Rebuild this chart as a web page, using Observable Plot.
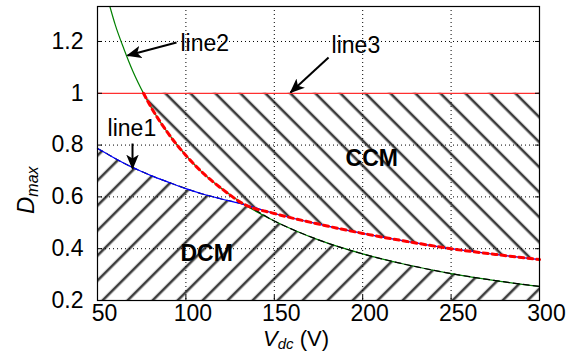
<!DOCTYPE html>
<html><head><meta charset="utf-8">
<script src="https://cdn.jsdelivr.net/npm/d3@7"></script>
<script src="https://cdn.jsdelivr.net/npm/@observablehq/plot@0.6"></script>
<style>
body{margin:0;background:#fff;}
#chart{position:absolute;left:0;top:0;}
</style></head><body><div id="chart"></div>
<script>
// Vdc sample points (V)
const vdc   = [50, 57, 60, 65, 70, 76, 80, 90, 100, 110, 120, 133, 150, 175, 200, 225, 250, 275, 300];
// line1 (blue)
const line1 = [0.787, 0.76, 0.748, 0.73, 0.713, 0.695, 0.683, 0.657, 0.632, 0.61, 0.592, 0.57, 0.536, 0.495, 0.459, 0.428, 0.40, 0.378, 0.358];
// line2 (green) – off the top of the chart at 50 V
const line2 = [null, 1.335, 1.265, 1.17, 1.085, 1.0, 0.95, 0.845, 0.76, 0.69, 0.633, 0.571, 0.507, 0.434, 0.38, 0.338, 0.304, 0.277, 0.254];
// line3: D = 1
const line3Level = 1;
const yFloor = 0.2;

const xTicks = [50, 100, 150, 200, 250, 300];
const yTicks = [0.2, 0.4, 0.6, 0.8, 1, 1.2];
const gridXs = [100, 150, 200, 250];
const gridYs = [0.4, 0.6, 0.8, 1.2];

// annotations (data coordinates)
const labelNames = ["line2", "line3", "line1"];
const labelX = [96.9, 182.4, 55.7];
const labelY = [1.192, 1.185, 0.864];
const arrowX1 = [94.7, 180.7, 69.8];
const arrowY1 = [1.196, 1.138, 0.806];
const arrowX2 = [67.0, 159.2, 69.8];
const arrowY2 = [1.146, 1.003, 0.71];
const regionNames = ["CCM", "DCM"];
const regionX = [190.3, 96.9];
const regionY = [0.748, 0.381];

const rows = vdc.map((v, i) => {
  const b = line1[i], g = line2[i] == null ? Infinity : line2[i];
  return {v, b, g: line2[i], lo: Math.min(b, g), hi: Math.min(line3Level, Math.max(b, g)), top: line3Level, floor: yFloor};
});
const greenRows = rows.filter(d => d.g != null);
const redRows = rows.filter(d => d.g != null && d.g <= line3Level);
const labels = labelNames.map((t, i) => ({t, x: labelX[i], y: labelY[i]}));
const arrows = labelNames.map((t, i) => ({x1: arrowX1[i], y1: arrowY1[i], x2: arrowX2[i], y2: arrowY2[i]}));
const regions = regionNames.map((t, i) => ({t, x: regionX[i], y: regionY[i]}));

const font = "Liberation Sans, Arial, Helvetica, sans-serif";
const fs = 23;

const plot = Plot.plot({
  width: 575, height: 358,
  marginLeft: 97, marginRight: 36, marginTop: 6, marginBottom: 58,
  x: {domain: [50, 300]},
  y: {domain: [0.2, 1.335]},
  style: {fontFamily: font, fontSize: fs + "px", background: "white", color: "black"},
  marks: [
    Plot.areaY(rows, {x: "v", y1: "floor", y2: "lo", fill: "url(#hatchDCM)", curve: "monotone-x"}),
    Plot.areaY(rows, {x: "v", y1: "hi", y2: "top", fill: "url(#hatchCCM)", curve: "monotone-x"}),
    Plot.gridX(gridXs, {stroke: "black", strokeOpacity: 1, strokeWidth: 1, strokeDasharray: "1,3"}),
    Plot.gridY(gridYs, {stroke: "black", strokeOpacity: 1, strokeWidth: 1, strokeDasharray: "1,3"}),
    Plot.line(greenRows, {x: "v", y: "g", stroke: "#008000", strokeWidth: 1.2, curve: "monotone-x", clip: true}),
    Plot.line(rows, {x: "v", y: "lo", stroke: "black", strokeWidth: 1.2, strokeDasharray: "6,4", curve: "monotone-x"}),
    Plot.line(rows, {x: "v", y: "b", stroke: "#0000ff", strokeWidth: 1.2, curve: "monotone-x"}),
    Plot.ruleY([line3Level], {stroke: "#ff3030", strokeWidth: 1.2}),
    Plot.line(redRows, {x: "v", y: d => Math.max(d.b, d.g), stroke: "#ff0000", strokeWidth: 3, strokeDasharray: "5,4", curve: "monotone-x"}),
    Plot.frame({stroke: "black", strokeWidth: 1.2}),
    Plot.axisX(xTicks, {tickSize: 0, tickPadding: 4, tickFormat: d => String(d), dx: 7, label: null, fontSize: fs}),
    Plot.axisY(yTicks, {tickSize: 0, tickPadding: 14, tickFormat: d => String(d), label: null, fontSize: fs}),
    Plot.axisX(xTicks, {anchor: "bottom", tickSize: 5, dy: -5, fill: null, label: null}),
    Plot.axisY(yTicks, {anchor: "left", tickSize: 5, dx: 5, fill: null, label: null}),
    Plot.axisY(yTicks, {anchor: "right", tickSize: 5, dx: -5, fill: null, label: null}),
    Plot.link(arrows, {x1: "x1", y1: "y1", x2: "x2", y2: "y2", stroke: "black", strokeWidth: 2}),
    Plot.text(labels, {x: "x", y: "y", text: "t", textAnchor: "start", fontSize: fs, fill: "black"}),
    Plot.text(regions, {x: "x", y: "y", text: "t", textAnchor: "start", fontSize: fs, fontWeight: "bold", fill: "black"})
  ]
});

const svg = d3.select(plot);
const defs = svg.insert("defs", ":first-child");
function hatch(id, angle, offset) {
  const p = defs.append("pattern").attr("id", id)
    .attr("patternUnits", "userSpaceOnUse")
    .attr("width", 17.68).attr("height", 17.68)
    .attr("patternTransform", `rotate(${angle})`);
  p.append("line").attr("x1", offset).attr("x2", offset).attr("y1", -1).attr("y2", 19)
    .attr("stroke", "#3a3a3a").attr("stroke-width", 2.6);
}
hatch("hatchDCM", 45, 2.1);
hatch("hatchCCM", -45, 15.6);

// filled arrowheads for the annotation arrows
defs.append("marker").attr("id", "arrowHead")
  .attr("markerUnits", "userSpaceOnUse")
  .attr("viewBox", "0 -5 12 10").attr("refX", 11).attr("refY", 0)
  .attr("markerWidth", 15).attr("markerHeight", 12.5).attr("orient", "auto")
  .append("path").attr("d", "M0,-5L12,0L0,5L3,0Z").attr("fill", "black");
svg.selectAll('g[aria-label="link"] path').attr("marker-end", "url(#arrowHead)");

// axis titles with subscripts
const xl = svg.append("text").attr("x", 263).attr("y", 346).attr("text-anchor", "start")
  .attr("font-family", font).attr("font-size", 22).attr("fill", "black");
xl.append("tspan").attr("font-style", "italic").text("V");
xl.append("tspan").attr("font-style", "italic").attr("font-size", 15).attr("dy", 3).text("dc");
xl.append("tspan").attr("dy", -3).text(" (V)");

const yl = svg.append("text").attr("transform", "translate(34,214) rotate(-90)").attr("text-anchor", "start")
  .attr("font-family", font).attr("font-size", fs + 1).attr("fill", "black");
yl.append("tspan").attr("font-style", "italic").text("D");
yl.append("tspan").attr("font-style", "italic").attr("font-size", 16).attr("dy", 4).text("max");

document.getElementById("chart").appendChild(plot);
</script>
</body></html>
